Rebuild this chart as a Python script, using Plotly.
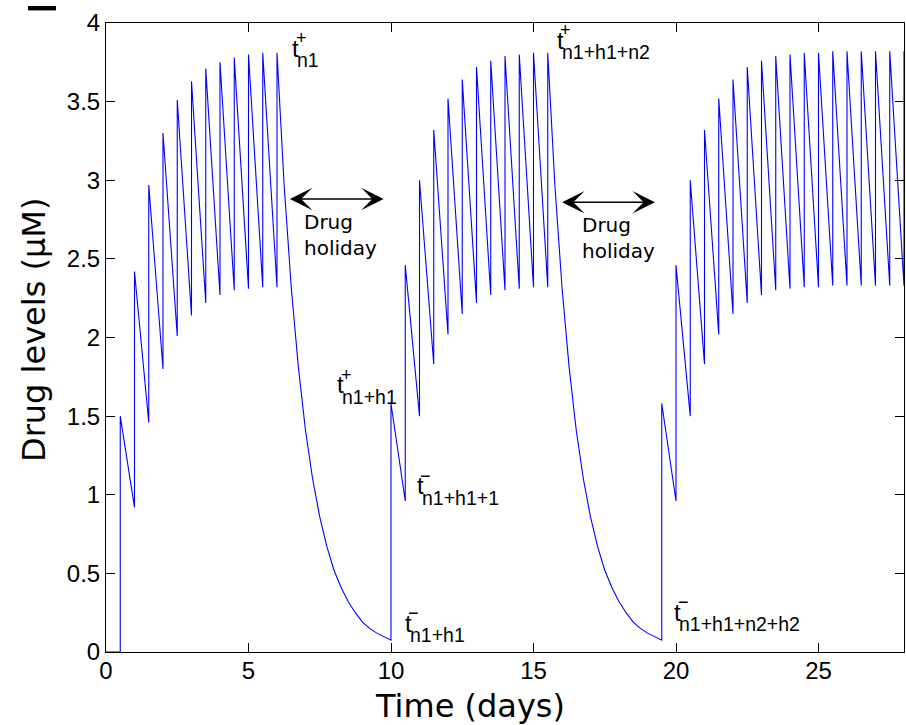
import plotly.graph_objects as go

# ---- Drug level profile (µM) over three dosing periods, 12-hourly doses ----
# level before the first dose
start_times = [0.0, 0.5]
start_levels = [0.0, 0.0]

# period 1
dose_times_1 = [0.5, 1.0, 1.5, 2.0, 2.5, 3.0, 3.5, 4.0, 4.5, 5.0, 5.5, 6.0]
pre_dose_1 = [0.0, 0.92, 1.46, 1.80, 2.01, 2.14, 2.22, 2.27, 2.30, 2.31, 2.32, 2.32]
post_dose_1 = [1.50, 2.42, 2.97, 3.30, 3.51, 3.63, 3.71, 3.75, 3.78, 3.80, 3.81, 3.81]

# drug holiday 1 (washout)
holiday_times_1 = [6.25, 6.5, 6.75, 7.0, 7.25, 7.5, 7.75, 8.0, 8.25, 8.5, 8.75,
                   9.0, 9.25, 9.5, 9.75]
holiday_levels_1 = [2.97, 2.32, 1.81, 1.41, 1.10, 0.86, 0.67, 0.52, 0.41, 0.32,
                    0.25, 0.19, 0.15, 0.12, 0.095]

# period 2
dose_times_2 = [10.0, 10.5, 11.0, 11.5, 12.0, 12.5, 13.0, 13.5, 14.0, 14.5, 15.0, 15.5]
pre_dose_2 = [0.075, 0.96, 1.50, 1.83, 2.02, 2.15, 2.22, 2.27, 2.30, 2.31, 2.32, 2.32]
post_dose_2 = [1.58, 2.46, 3.00, 3.32, 3.52, 3.64, 3.72, 3.76, 3.79, 3.80, 3.81, 3.81]

# drug holiday 2 (washout)
holiday_times_2 = [15.75, 16.0, 16.25, 16.5, 16.75, 17.0, 17.25, 17.5, 17.75, 18.0,
                   18.25, 18.5, 18.75, 19.0, 19.25]
holiday_levels_2 = [2.97, 2.32, 1.81, 1.41, 1.10, 0.86, 0.67, 0.52, 0.41, 0.32,
                    0.25, 0.19, 0.15, 0.12, 0.095]

# period 3
dose_times_3 = [19.5, 20.0, 20.5, 21.0, 21.5, 22.0, 22.5, 23.0, 23.5, 24.0, 24.5,
                25.0, 25.5, 26.0, 26.5, 27.0, 27.5, 28.0]
pre_dose_3 = [0.075, 0.96, 1.50, 1.83, 2.02, 2.15, 2.22, 2.27, 2.30, 2.31, 2.32,
              2.32, 2.33, 2.33, 2.33, 2.33, 2.33, 2.33]
post_dose_3 = [1.58, 2.46, 3.00, 3.32, 3.52, 3.64, 3.72, 3.76, 3.79, 3.80, 3.81,
               3.81, 3.82, 3.82, 3.82, 3.82, 3.82, 3.82]

x_ticks = [0, 5, 10, 15, 20, 25]
y_ticks = [0, 0.5, 1, 1.5, 2, 2.5, 3, 3.5, 4]
y_tick_text = ["0", "0.5", "1", "1.5", "2", "2.5", "3", "3.5", "4"]


def dosing_segment(times, pre, post):
    """Each dose: jump from the pre-dose level to the post-dose level."""
    xs, ys = [], []
    for t, a, b in zip(times, pre, post):
        xs += [t, t]
        ys += [a, b]
    return xs, ys


t_all, c_all = list(start_times[:1]), list(start_levels[:1])
for times, pre, post, h_t, h_c in [
    (dose_times_1, pre_dose_1, post_dose_1, holiday_times_1, holiday_levels_1),
    (dose_times_2, pre_dose_2, post_dose_2, holiday_times_2, holiday_levels_2),
    (dose_times_3, pre_dose_3, post_dose_3, [], []),
]:
    xs, ys = dosing_segment(times, pre, post)
    t_all += xs + h_t
    c_all += ys + h_c

fig = go.Figure()
fig.add_trace(go.Scatter(
    x=t_all, y=c_all, mode="lines",
    line=dict(color="#0000ff", width=1.1),
    hoverinfo="skip", showlegend=False,
))

TICK_FONT = dict(family="Liberation Sans, Arial, sans-serif", size=24, color="black")
LABEL_FONT = "DejaVu Sans, sans-serif"

annotations = []

# time-point labels: t with a stacked superscript sign and a subscript index
time_labels = [
    (6.46, 3.84, "+", "n1"),
    (15.75, 3.89, "+", "n1+h1+n2"),
    (8.04, 1.70, "+", "n1+h1"),
    (10.84, 1.056, "\u2212", "n1+h1+1"),
    (10.42, 0.184, "\u2212", "n1+h1"),
    (19.86, 0.254, "\u2212", "n1+h1+n2+h2"),
]
for tx, ty, sign, idx in time_labels:
    annotations.append(dict(x=tx, y=ty, xref="x", yref="y", text="t",
                            showarrow=False, xanchor="left", yanchor="middle",
                            font=dict(family="Liberation Sans, Arial", size=24, color="black")))
    annotations.append(dict(x=tx, y=ty, xref="x", yref="y", text=sign,
                            showarrow=False, xanchor="center", yanchor="middle",
                            xshift=11, yshift=10,
                            font=dict(family="Liberation Sans, Arial", size=18, color="black")))
    annotations.append(dict(x=tx, y=ty, xref="x", yref="y", text=idx,
                            showarrow=False, xanchor="left", yanchor="middle",
                            xshift=5, yshift=-12,
                            font=dict(family="Liberation Sans, Arial", size=19.5, color="black")))

# drug holiday double arrows
for x0, x1, ya, tx, ty in [(6.40, 9.74, 2.88, 6.88, 2.65),
                           (15.95, 19.26, 2.86, 16.63, 2.63)]:
    annotations.append(dict(
        x=x1, y=ya, ax=x0, ay=ya, xref="x", yref="y", axref="x", ayref="y",
        text="", showarrow=True, arrowside="end+start",
        arrowhead=3, startarrowhead=3, arrowsize=2.5, startarrowsize=2.5,
        arrowwidth=1.5, arrowcolor="black", standoff=0, startstandoff=0,
    ))
    annotations.append(dict(
        x=tx, y=ty, xref="x", yref="y", text="Drug<br>holiday",
        showarrow=False, xanchor="left", yanchor="middle", align="left",
        font=dict(family=LABEL_FONT, size=20, color="black"),
    ))

# axis titles
annotations.append(dict(x=0.456, y=-0.086, xref="paper", yref="paper",
                        text="Time (days)", showarrow=False,
                        xanchor="center", yanchor="middle",
                        font=dict(family=LABEL_FONT, size=32, color="black")))
annotations.append(dict(x=-0.0902, y=0.512, xref="paper", yref="paper",
                        text="Drug levels (\u00b5M)", showarrow=False, textangle=-90,
                        xanchor="center", yanchor="middle",
                        font=dict(family=LABEL_FONT, size=32, color="black")))

fig.update_layout(
    width=906, height=725,
    margin=dict(l=106, r=2, t=23, b=73),
    paper_bgcolor="white", plot_bgcolor="white",
    annotations=annotations,
    shapes=[dict(type="rect", xref="paper", yref="paper",
                 x0=-0.0977, x1=-0.0627, y0=1.020, y1=1.027,
                 fillcolor="black", line=dict(width=0))],
)
fig.update_xaxes(
    range=[0, 28], tickvals=x_ticks, ticks="inside", ticklen=9, tickwidth=1,
    tickcolor="black", showline=True, linecolor="black", linewidth=1,
    mirror="ticks", showgrid=False, zeroline=False, tickfont=TICK_FONT,
    ticklabelstandoff=-3,
)
fig.update_yaxes(
    range=[0, 4], tickvals=y_ticks, ticktext=y_tick_text, ticks="inside",
    ticklen=9, tickwidth=1, tickcolor="black", showline=True, linecolor="black",
    linewidth=1, mirror="ticks", showgrid=False, zeroline=False, tickfont=TICK_FONT,
)

fig.write_html("out.html")
